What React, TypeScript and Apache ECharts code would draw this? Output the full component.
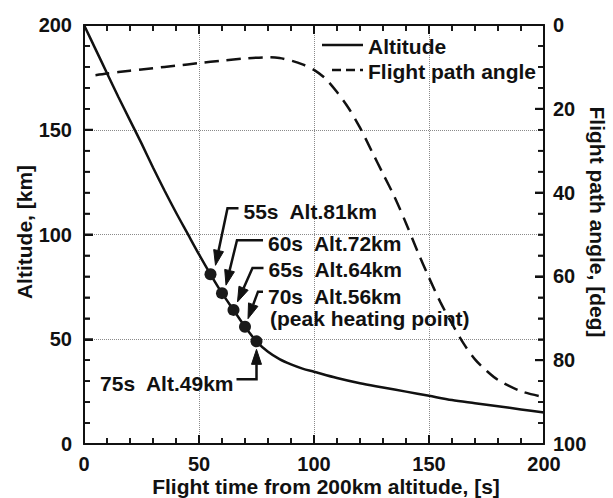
import React, { useEffect, useRef } from "react";
import * as echarts from "echarts";

// ---- data ----
const altTime = [0, 5, 10, 15, 20, 25, 30, 35, 40, 45, 50, 55, 60, 65, 70, 75, 80, 85, 90, 95, 100, 110, 120, 130, 140, 150, 160, 170, 180, 190, 200];
const altitudeKm = [200, 188.5, 177, 165.5, 154.5, 143.5, 132, 121, 110.5, 100.5, 90.5, 81, 72, 64, 56, 49, 44, 40.5, 38, 36, 34.5, 31.5, 29, 27, 25, 23, 21, 19.5, 18, 16.5, 15];

const angleTime = [5, 10, 20, 30, 40, 50, 60, 70, 80, 85, 90, 95, 100, 105, 110, 115, 120, 125, 130, 135, 140, 145, 150, 155, 160, 165, 170, 175, 180, 190, 200];
const pathAngleDeg = [12, 11.6, 10.9, 10.3, 9.7, 9.1, 8.5, 8, 7.7, 7.9, 8.5, 9.4, 10.7, 12.8, 16, 19.8, 24.5, 30, 35.5, 41, 47.3, 54, 60.3, 66.2, 71.3, 76, 79.8, 82.5, 84.7, 87.4, 88.8];

const markerTime = [55, 60, 65, 70, 75];
const markerAlt = [81, 72, 64, 56, 49];
const markerLabels = ["55s  Alt.81km", "60s  Alt.72km", "65s  Alt.64km", "70s  Alt.56km", "75s  Alt.49km"];
const peakNote = "(peak heating point)";

const seriesNames = ["Altitude", "Flight path angle"];
const xTitle = "Flight time from 200km altitude, [s]";
const yLeftTitle = "Altitude, [km]";
const yRightTitle = "Flight path angle, [deg]";

// axis tick settings (value steps)
const X_MAX = 200, X_MAJOR = 50, X_MINOR = 10;
const YL_MAX = 200, YL_MAJOR = 50, YL_MINOR = 10;
const YR_MAX = 100, YR_MAJOR = 20, YR_MINOR = 5;

// ---- layout (pixel offsets of annotation pieces relative to the marked point) ----
const annLayout = [
  { elbow: [17, -66], tip: [5, -9], text: [33, -63], align: "left" },
  { elbow: [15, -53], tip: [4, -8], text: [46, -50], align: "left" },
  { elbow: [19, -42], tip: [4, -8], text: [35, -40], align: "left" },
  { elbow: [13, -35], tip: [3, -8], text: [23, -30], align: "left" },
  { elbow: [0, 38], tip: [0, 8], text: [-23, 42], align: "right" },
];

const FONT = '"Liberation Sans", Arial, Helvetica, sans-serif';
const INK = "#111111";

function makeTick() {
  return { show: true, inside: true, length: 9, lineStyle: { color: INK, width: 2 } };
}
function makeMinor(n: number) {
  return { show: true, splitNumber: n, length: 6, lineStyle: { color: INK, width: 1.6 } };
}
function makeLine() {
  return { show: true, onZero: false, lineStyle: { color: INK, width: 2 } };
}

function steps(max: number, step: number) {
  const out: number[] = [];
  for (let v = 0; v <= max + 1e-9; v += step) out.push(v);
  return out;
}

export default function App() {
  const ref = useRef<HTMLDivElement>(null);

  useEffect(() => {
    if (!ref.current) return;
    const chart = echarts.init(ref.current, undefined, { renderer: "svg" });

    const labelStyle = { color: INK, fontSize: 20, fontWeight: "bold", fontFamily: FONT };

    chart.setOption({
      animation: false,
      grid: { left: 84, right: 69, top: 25, bottom: 54, outerBoundsMode: "none" },
      xAxis: [
        {
          type: "value",
          min: 0,
          max: X_MAX,
          interval: X_MAJOR,
          position: "bottom",
          axisLine: makeLine(),
          axisTick: makeTick(),
          minorTick: makeMinor(X_MAJOR / X_MINOR),
          axisLabel: { ...labelStyle, margin: 10 },
          splitLine: { show: true, lineStyle: { type: "dotted", color: "#8a8a8a", width: 1 } },
        },
        {
          type: "value",
          min: 0,
          max: X_MAX,
          interval: X_MAJOR,
          position: "top",
          axisLine: makeLine(),
          axisTick: makeTick(),
          minorTick: makeMinor(X_MAJOR / X_MINOR),
          axisLabel: { show: false },
          splitLine: { show: false },
        },
      ],
      yAxis: [
        {
          type: "value",
          min: 0,
          max: YL_MAX,
          interval: YL_MAJOR,
          position: "left",
          axisLine: makeLine(),
          axisTick: makeTick(),
          minorTick: makeMinor(YL_MAJOR / YL_MINOR),
          axisLabel: { ...labelStyle, margin: 12 },
          splitLine: { show: true, lineStyle: { type: "dotted", color: "#8a8a8a", width: 1 } },
        },
        {
          type: "value",
          min: 0,
          max: YR_MAX,
          interval: YR_MAJOR,
          inverse: true,
          position: "right",
          axisLine: makeLine(),
          axisTick: makeTick(),
          minorTick: makeMinor(YR_MAJOR / YR_MINOR),
          axisLabel: { ...labelStyle, margin: 9 },
          splitLine: { show: false },
        },
      ],
      series: [
        {
          name: seriesNames[0],
          type: "line",
          xAxisIndex: 0,
          yAxisIndex: 0,
          data: altTime.map((t, i) => [t, altitudeKm[i]]),
          symbol: "none",
          smooth: 0.3,
          lineStyle: { color: INK, width: 2.5 },
          itemStyle: { color: INK },
        },
        {
          name: seriesNames[1],
          type: "line",
          xAxisIndex: 0,
          yAxisIndex: 1,
          data: angleTime.map((t, i) => [t, pathAngleDeg[i]]),
          symbol: "none",
          smooth: 0.3,
          lineStyle: { color: INK, width: 2.5, type: [14, 8] },
          itemStyle: { color: INK },
        },
        {
          name: "markers",
          type: "scatter",
          xAxisIndex: 0,
          yAxisIndex: 0,
          data: markerTime.map((t, i) => [t, markerAlt[i]]),
          symbol: "circle",
          symbolSize: 12,
          itemStyle: { color: "#1a1a1a", opacity: 1 },
          z: 5,
        },
      ],
    });

    const graphics: any[] = [];
    const font = `bold 21px ${FONT}`;
    const px = (xv: number, yv: number, yi = 0) =>
      chart.convertToPixel({ xAxisIndex: 0, yAxisIndex: yi }, [xv, yv]) as number[];

    // inward ticks placed through the axes' scales
    const tickStroke = (major: boolean) => ({ stroke: INK, lineWidth: major ? 2 : 1.6 });
    steps(X_MAX, X_MINOR).forEach((v) => {
      const major = v % X_MAJOR === 0;
      const len = major ? 9 : 6;
      const b = px(v, 0);
      const t = px(v, YL_MAX);
      graphics.push({ type: "line", silent: true, shape: { x1: b[0], y1: b[1], x2: b[0], y2: b[1] - len }, style: tickStroke(major), z: 3 });
      graphics.push({ type: "line", silent: true, shape: { x1: t[0], y1: t[1], x2: t[0], y2: t[1] + len }, style: tickStroke(major), z: 3 });
    });
    steps(YL_MAX, YL_MINOR).forEach((v) => {
      const major = v % YL_MAJOR === 0;
      const len = major ? 9 : 6;
      const l = px(0, v);
      graphics.push({ type: "line", silent: true, shape: { x1: l[0], y1: l[1], x2: l[0] + len, y2: l[1] }, style: tickStroke(major), z: 3 });
    });
    steps(YR_MAX, YR_MINOR).forEach((v) => {
      const major = v % YR_MAJOR === 0;
      const len = major ? 9 : 6;
      const r = px(X_MAX, v, 1);
      graphics.push({ type: "line", silent: true, shape: { x1: r[0], y1: r[1], x2: r[0] - len, y2: r[1] }, style: tickStroke(major), z: 3 });
    });

    // axis titles
    graphics.push({
      type: "text", x: 24, y: 232, rotation: Math.PI / 2,
      style: { text: yLeftTitle, font, fill: INK, align: "center", verticalAlign: "middle" },
    });
    graphics.push({
      type: "text", x: 597, y: 222, rotation: -Math.PI / 2,
      style: { text: yRightTitle, font, fill: INK, align: "center", verticalAlign: "middle" },
    });
    graphics.push({
      type: "text", x: 326, y: 486,
      style: { text: xTitle, font, fill: INK, align: "center", verticalAlign: "middle" },
    });

    // legend (line samples + names)
    graphics.push({
      type: "line",
      shape: { x1: 322, y1: 45, x2: 363, y2: 45 },
      style: { stroke: INK, lineWidth: 2.5 },
      z: 10,
    });
    graphics.push({
      type: "line",
      shape: { x1: 332, y1: 70, x2: 363, y2: 70 },
      style: { stroke: INK, lineWidth: 2.5, lineDash: [9, 5] },
      z: 10,
    });
    seriesNames.forEach((n, i) => {
      graphics.push({
        type: "text",
        x: 368,
        y: 46 + i * 25,
        style: { text: n, font, fill: INK, align: "left", verticalAlign: "middle" },
        z: 10,
      });
    });

    // annotations placed from data coordinates through the chart's scales
    markerTime.forEach((t, i) => {
      const p = px(t, markerAlt[i]);
      const L = annLayout[i];
      const elbow = [p[0] + L.elbow[0], p[1] + L.elbow[1]];
      const tip = [p[0] + L.tip[0], p[1] + L.tip[1]];
      const tx = p[0] + L.text[0];
      const ty = p[1] + L.text[1];
      const lineStartX = L.align === "left" ? tx - 5 : tx + 3;
      const dx = tip[0] - elbow[0];
      const dy = tip[1] - elbow[1];
      const len = Math.hypot(dx, dy);
      const ux = dx / len;
      const uy = dy / len;
      const headLen = 15;
      const headHalf = 5;
      const base = [tip[0] - ux * headLen, tip[1] - uy * headLen];
      graphics.push({
        type: "polyline",
        shape: { points: [[lineStartX, elbow[1]], elbow, base] },
        style: { stroke: INK, lineWidth: 2.5, fill: null },
        z: 10,
      });
      graphics.push({
        type: "polygon",
        shape: {
          points: [
            tip,
            [base[0] - uy * headHalf, base[1] + ux * headHalf],
            [base[0] + uy * headHalf, base[1] - ux * headHalf],
          ],
        },
        style: { fill: INK, stroke: INK, lineWidth: 1 },
        z: 10,
      });
      graphics.push({
        type: "text",
        x: tx,
        y: ty,
        style: { text: markerLabels[i], font, fill: INK, align: L.align, verticalAlign: "middle" },
        z: 10,
      });
      if (i === 3) {
        graphics.push({
          type: "text",
          x: tx + 2,
          y: ty + 22,
          style: { text: peakNote, font, fill: INK, align: "left", verticalAlign: "middle" },
          z: 10,
        });
      }
    });
    chart.setOption({ graphic: graphics });

    return () => chart.dispose();
  }, []);

  return <div ref={ref} style={{ position: "absolute", left: 0, top: 0, width: 613, height: 498 }} />;
}
